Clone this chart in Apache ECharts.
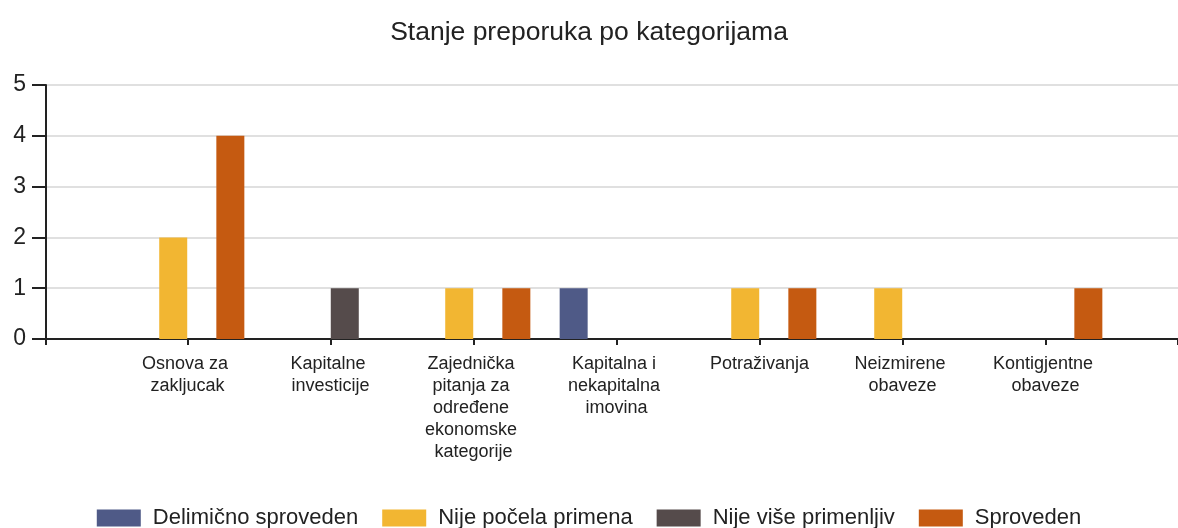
<!DOCTYPE html>
<html>
<head>
<meta charset="utf-8">
<script src="https://cdn.jsdelivr.net/npm/echarts@6/dist/echarts.min.js"></script>
<style>
  html, body { margin: 0; padding: 0; background: #fff; }
  #chart { width: 1178px; height: 528px; }
</style>
</head>
<body>
<div id="chart"></div>
<script>
const titleText = 'Stanje preporuka po kategorijama'
const categories = [
  'Osnova za zakljucak',
  'Kapitalne investicije',
  'Zajednička pitanja za određene ekonomske kategorije',
  'Kapitalna i nekapitalna imovina',
  'Potraživanja',
  'Neizmirene obaveze',
  'Kontigjentne obaveze'
]
const seriesNames = ['Delimično sproveden', 'Nije počela primena', 'Nije više primenljiv', 'Sproveden']
const delimicno = [0, 0, 0, 1, 0, 0, 0]
const nijePocela = [2, 0, 1, 0, 1, 1, 0]
const nijeVise = [0, 1, 0, 0, 0, 0, 0]
const sproveden = [4, 0, 1, 0, 1, 0, 1]
const yTicks = [0, 1, 2, 3, 4, 5]

const colors = ['#4f5a87', '#f2b632', '#554b4b', '#c55a11']
const font = '"Liberation Sans", Arial, sans-serif'

const values = [delimicno, nijePocela, nijeVise, sproveden]

const option = {
  animation: false,
  color: colors,
  title: {
    text: titleText,
    left: 'center',
    top: 14,
    textStyle: { fontFamily: font, fontSize: 26.5, fontWeight: 'normal', color: '#222' }
  },
  legend: {
    top: 502,
    left: 'center',
    itemWidth: 44,
    itemHeight: 17,
    itemGap: 24,
    icon: 'rect',
    data: seriesNames,
    textStyle: { fontFamily: font, fontSize: 22, color: '#222', padding: [0, 0, 0, 7] }
  },
  grid: [
    { left: 46, right: 0, top: 85, bottom: 189 },
    { left: 116, right: 61, top: 85, bottom: 189 }
  ],
  xAxis: [
    {
      gridIndex: 0,
      type: 'value',
      min: 0,
      max: 1,
      interval: 1,
      axisLine: { show: true, lineStyle: { color: '#222', width: 2 } },
      axisTick: { show: true, length: 6, lineStyle: { color: '#222', width: 2 } },
      axisLabel: { show: false },
      splitLine: { show: false }
    },
    {
      gridIndex: 1,
      type: 'category',
      data: categories,
      axisLine: { show: true, lineStyle: { color: '#222', width: 2 } },
      axisTick: { show: true, alignWithLabel: true, length: 6, lineStyle: { color: '#222', width: 2 } },
      axisLabel: {
        interval: 0,
        margin: 14,
        width: 110,
        overflow: 'break',
        fontFamily: font,
        fontSize: 18,
        lineHeight: 22,
        color: '#222'
      }
    }
  ],
  yAxis: [
    {
      gridIndex: 0,
      type: 'value',
      min: yTicks[0],
      max: yTicks[yTicks.length - 1],
      interval: 1,
      axisLine: { show: true, lineStyle: { color: '#222', width: 2 } },
      axisTick: { show: true, length: 14, lineStyle: { color: '#222', width: 2 } },
      axisLabel: { margin: 20, fontFamily: font, fontSize: 23, color: '#222' },
      splitLine: { show: true, lineStyle: { color: '#e0e0e0', width: 2 } }
    },
    {
      gridIndex: 1,
      type: 'value',
      min: yTicks[0],
      max: yTicks[yTicks.length - 1],
      interval: 1,
      show: false
    }
  ],
  series: seriesNames.map((name, i) => ({
    name: name,
    type: 'bar',
    xAxisIndex: 1,
    yAxisIndex: 1,
    barWidth: 28,
    barGap: '2%',
    data: values[i]
  }))
}

const chart = echarts.init(document.getElementById('chart'))
chart.setOption(option)
window.addEventListener('resize', () => chart.resize())
</script>
</body>
</html>
